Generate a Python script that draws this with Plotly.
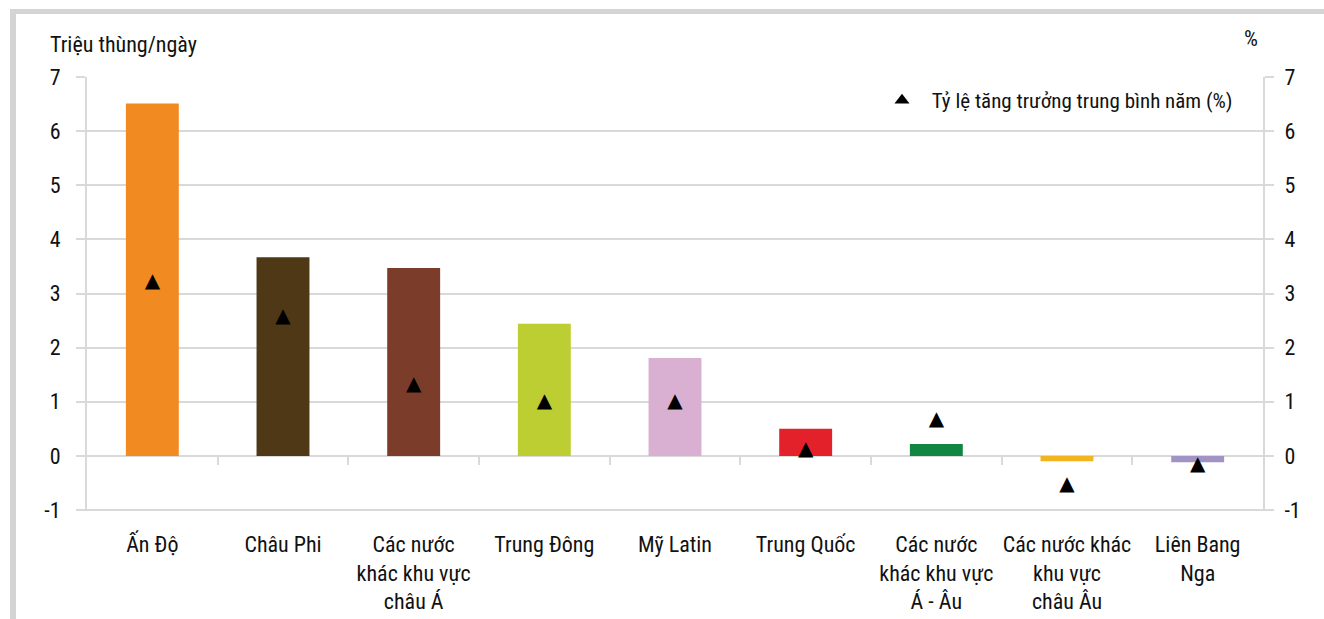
import plotly.graph_objects as go

# Regions and values
regions = [
    "Ấn Độ",
    "Châu Phi",
    "Các nước<br>khác khu vực<br>châu Á",
    "Trung Đông",
    "Mỹ Latin",
    "Trung Quốc",
    "Các nước<br>khác khu vực<br>Á - Âu",
    "Các nước khác<br>khu vực<br>châu Âu",
    "Liên Bang<br>Nga",
]
demand_increase = [6.51, 3.67, 3.47, 2.44, 1.81, 0.50, 0.22, -0.10, -0.12]   # million barrels/day
growth_rate = [3.21, 2.56, 1.31, 1.00, 1.00, 0.11, 0.66, -0.53, -0.16]       # % per year
bar_colors = ["#F28A22", "#4E3816", "#7B3C2A", "#BDCE32", "#D9AFD2",
              "#E3212A", "#138542", "#F2B41F", "#A194C4"]
y_ticks = [-1, 0, 1, 2, 3, 4, 5, 6, 7]
y_tick_text = ["-1", "0", "1", "2", "3", "4", "5", "6", "7"]
left_title = "Triệu thùng/ngày"
right_title = "%"
legend_label = "Tỷ lệ tăng trưởng trung bình năm (%)"

W, H = 1324, 619
ML, MR, MT, MB = 87, 61, 77, 109
PW, PH = W - ML - MR, H - MT - MB
FONT = "Roboto Condensed, Liberation Sans, sans-serif"
FS = 22
GRID = "#d9d9d9"


def px_x(px):
    return (px - ML) / PW


def px_y(py):
    return (H - MB - py) / PH


x_idx = list(range(len(regions)))

fig = go.Figure()
fig.add_trace(go.Bar(
    x=x_idx, y=demand_increase, width=0.405,
    marker=dict(color=bar_colors, line=dict(width=0)),
    showlegend=False, hoverinfo="y",
))
# growth-rate markers drawn as triangle glyphs
fig.add_trace(go.Scatter(
    x=x_idx, y=growth_rate, yaxis="y2", mode="text",
    text=["▲"] * len(growth_rate), textposition="middle center",
    textfont=dict(family="DejaVu Sans", size=20, color="black"),
    showlegend=False, hoverinfo="y",
))
# legend entry for the growth-rate series
fig.add_trace(go.Scatter(
    x=[None], y=[None], yaxis="y2", mode="markers",
    name="\u00a0\u00a0" + legend_label,
    marker=dict(symbol="triangle-up", size=13, color="black"),
))
# invisible trace anchoring the boundary tick axis
fig.add_trace(go.Scatter(x=[None], y=[None], xaxis="x2", showlegend=False))

axis_common = dict(
    range=[-1, 7], tickvals=y_ticks, ticktext=y_tick_text,
    zeroline=False, showline=True, linecolor=GRID, linewidth=2,
    ticks="outside", ticklen=9, tickwidth=2, tickcolor=GRID,
    automargin=False, fixedrange=True,
)

fig.update_layout(
    width=W, height=H,
    margin=dict(l=ML, r=MR, t=MT, b=MB, pad=0, autoexpand=False),
    paper_bgcolor="white", plot_bgcolor="white",
    font=dict(family=FONT, size=FS, color="#111111"),
    showlegend=True,
    legend=dict(x=px_x(1238), y=px_y(80), xanchor="right", yanchor="top",
                bgcolor="rgba(0,0,0,0)", font=dict(size=21),
                itemwidth=30, tracegroupgap=0),
    xaxis=dict(
        range=[-0.5, len(regions) - 0.5], tickvals=x_idx, ticktext=regions,
        tickangle=0, showgrid=False, zeroline=False, showline=False, ticks="",
        ticklabelstandoff=19, automargin=False, fixedrange=True,
    ),
    xaxis2=dict(
        range=[-0.5, len(regions) - 0.5], overlaying="x", anchor="free",
        position=1 / 8, tickvals=[i + 0.5 for i in x_idx[:-1]],
        ticks="outside", ticklen=8, tickwidth=2, tickcolor=GRID,
        showticklabels=False, showgrid=False, zeroline=False, showline=False,
        automargin=False, fixedrange=True,
    ),
    yaxis=dict(showgrid=True, gridcolor=GRID, gridwidth=2,
               ticklabelstandoff=11, **axis_common),
    yaxis2=dict(overlaying="y", side="right", showgrid=False,
                ticklabelstandoff=6, **axis_common),
    annotations=[
        dict(text=left_title, xref="paper", yref="paper", x=px_x(48), y=px_y(44),
             xanchor="left", yanchor="middle", showarrow=False, font=dict(size=FS)),
        dict(text=right_title, xref="paper", yref="paper", x=px_x(1251), y=px_y(38),
             xanchor="center", yanchor="middle", showarrow=False, font=dict(size=FS)),
    ],
    shapes=[
        # frame strips along the top and left edges
        dict(type="rect", xref="paper", yref="paper", layer="below",
             x0=px_x(10), x1=px_x(W + 5), y0=px_y(9), y1=px_y(14),
             fillcolor="#d4d4d4", line=dict(width=0)),
        dict(type="rect", xref="paper", yref="paper", layer="below",
             x0=px_x(10), x1=px_x(16), y0=px_y(9), y1=px_y(H + 5),
             fillcolor="#d4d4d4", line=dict(width=0)),
        # bottom line of the plot area
        dict(type="line", xref="paper", yref="paper", layer="below",
             x0=px_x(78), x1=px_x(1272), y0=0, y1=0,
             line=dict(color=GRID, width=2)),
    ],
)

fig.write_html("out.html", config={"displayModeBar": False})
